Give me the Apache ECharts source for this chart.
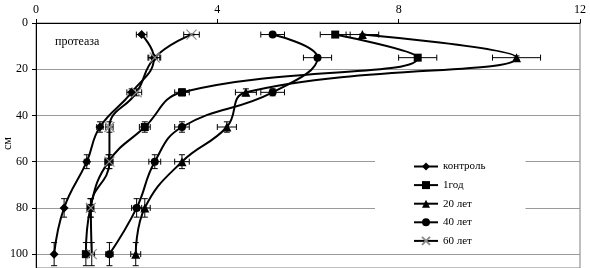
<!DOCTYPE html>
<html>
<head>
<meta charset="utf-8">
<script src="https://cdn.jsdelivr.net/npm/echarts@6/dist/echarts.min.js"></script>
<style>html,body{margin:0;padding:0;background:#fff}#c{width:590px;height:268px}</style>
</head>
<body>
<div id="c"></div>
<script>
// depth (cm)
var depths = [5, 15, 30, 45, 60, 80, 100];
// protease activity by series
var control = [2.33, 2.6, 2.11, 1.41, 1.12, 0.62, 0.4];
var year1 = [6.6, 8.42, 3.22, 2.4, 1.6, 1.2, 1.1];
var years20 = [7.2, 10.6, 4.63, 4.21, 3.22, 2.4, 2.2];
var years40 = [5.22, 6.21, 5.22, 3.22, 2.62, 2.22, 1.62];
var years60 = [3.43, 2.62, 2.22, 1.62, 1.62, 1.21, 1.23];
var seriesNames = ['контроль', '1год', '20 лет', '40 лет', '60 лет'];
var xTicks = [0, 4, 8, 12];
var yTicks = [0, 20, 40, 60, 80, 100];
var errPct = 0.05; // percentage error bars (both directions)

var allVals = [control, year1, years20, years40, years60];
var symbols = ['diamond', 'rect', 'triangle', 'circle', 'path://M0,0 L10,10 M10,0 L0,10'];
var symSizes = [9, 8, 9, 8, 10];
var FONT = "'Liberation Serif', 'Times New Roman', serif";

function pairs(vals) {
  return vals.map(function (v, i) { return [v, depths[i]]; });
}

var series = [];
allVals.forEach(function (vals, k) {
  var isX = k === 4;
  series.push({
    name: seriesNames[k],
    type: 'line',
    data: pairs(vals),
    smooth: 0.45,
    symbol: symbols[k],
    symbolSize: symSizes[k],
    showAllSymbol: true,
    lineStyle: { color: '#000', width: 2 },
    itemStyle: isX ? { color: 'rgba(0,0,0,0)', borderColor: '#8a8a8a', borderWidth: 1.2 }
                   : { color: '#000', borderColor: '#000', borderWidth: 0 },
    z: 3
  });
  series.push({
    name: 'err' + k,
    type: 'custom',
    data: pairs(vals),
    z: 2,
    silent: true,
    renderItem: function (params, api) {
      var x = api.value(0), y = api.value(1);
      var pl = api.coord([x * (1 - errPct), y]);
      var pr = api.coord([x * (1 + errPct), y]);
      var pt = api.coord([x, y * (1 - errPct)]);
      var pb = api.coord([x, y * (1 + errPct)]);
      var c = 3;
      var st = { stroke: '#000', lineWidth: 1 };
      var ch = [
        { type: 'line', shape: { x1: pl[0], y1: pl[1], x2: pr[0], y2: pr[1] }, style: st },
        { type: 'line', shape: { x1: pl[0], y1: pl[1] - c, x2: pl[0], y2: pl[1] + c }, style: st },
        { type: 'line', shape: { x1: pr[0], y1: pr[1] - c, x2: pr[0], y2: pr[1] + c }, style: st },
        { type: 'line', shape: { x1: pt[0], y1: pt[1], x2: pb[0], y2: pb[1] }, style: st },
        { type: 'line', shape: { x1: pt[0] - c, y1: pt[1], x2: pt[0] + c, y2: pt[1] }, style: st },
        { type: 'line', shape: { x1: pb[0] - c, y1: pb[1], x2: pb[0] + c, y2: pb[1] }, style: st }
      ];
      return { type: 'group', children: ch };
    }
  });
});

var chart = echarts.init(document.getElementById('c'), null, { renderer: 'canvas' });
chart.setOption({
  animation: false,
  backgroundColor: '#fff',
  grid: { left: 36, right: 10, top: 23, bottom: 0, show: true, borderColor: '#7f7f7f', borderWidth: 1, backgroundColor: 'transparent' },
  xAxis: {
    type: 'value', position: 'top', min: xTicks[0], max: xTicks[xTicks.length - 1], interval: xTicks[1] - xTicks[0],
    axisLine: { show: true, lineStyle: { color: '#000', width: 1 } },
    axisTick: { show: true, length: 4, lineStyle: { color: '#000' } },
    axisLabel: { color: '#000', fontFamily: FONT, fontSize: 12, margin: 7 },
    splitLine: { show: false }
  },
  yAxis: {
    type: 'value', inverse: true, min: 0, max: 106, interval: yTicks[1] - yTicks[0],
    axisLine: { show: true, onZero: false, lineStyle: { color: '#000', width: 1 } },
    axisTick: { show: true, length: 4, lineStyle: { color: '#000' } },
    axisLabel: {
      color: '#000', fontFamily: FONT, fontSize: 12, margin: 8, showMaxLabel: false,
      formatter: function (v) { return yTicks.indexOf(v) >= 0 ? String(v) : ''; }
    },
    splitLine: { show: true, lineStyle: { color: '#9a9a9a', width: 1 } }
  },
  legend: {
    data: seriesNames,
    orient: 'vertical',
    left: 375, top: 153,
    padding: [8, 40, 6, 38],
    backgroundColor: '#fff',
    itemWidth: 24, itemHeight: 10, itemGap: 7.6,
    textStyle: { color: '#000', fontFamily: FONT, fontSize: 11 }
  },
  graphic: [
    { type: 'text', left: 55, top: 36, style: { text: 'протеаза', font: '12px ' + FONT, fill: '#000' } },
    { type: 'text', x: 2, y: 150, rotation: Math.PI / 2, style: { text: 'см', font: '12px ' + FONT, fill: '#000' } }
  ],
  series: series
});
</script>
</body>
</html>
